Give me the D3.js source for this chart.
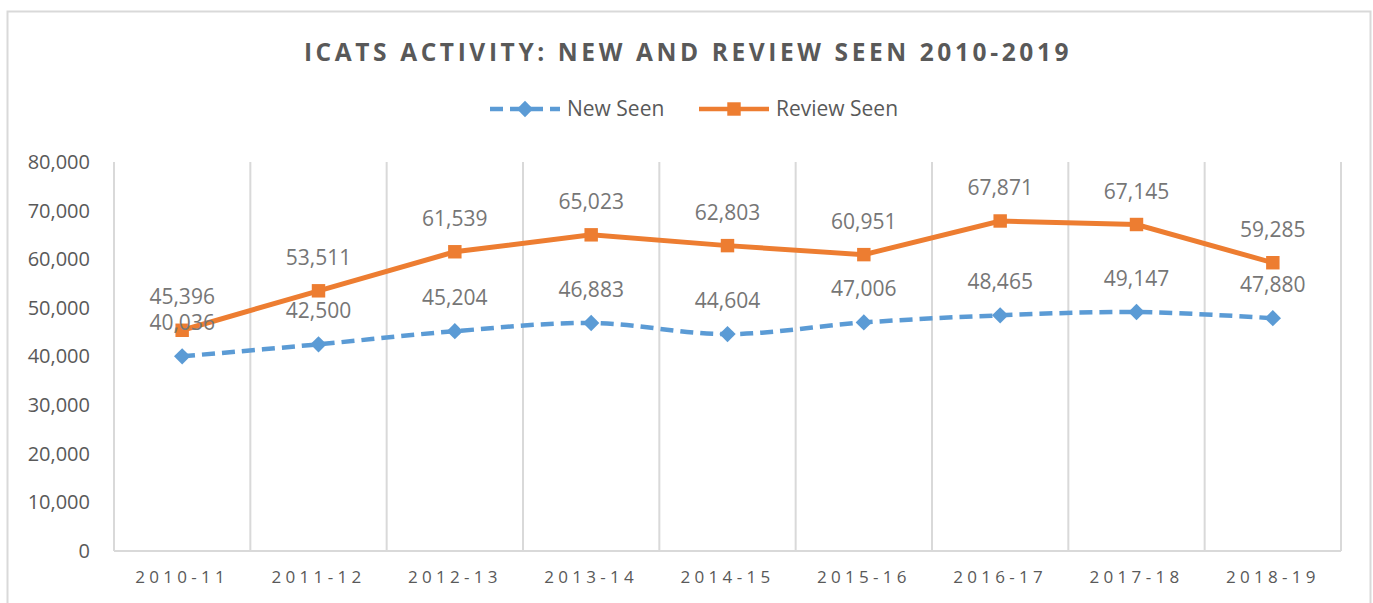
<!DOCTYPE html>
<meta charset="utf-8">
<style>
  body { margin: 0; background: #fff; }
  svg { display: block; font-family: "Open Sans", sans-serif; }
</style>
<svg width="1373" height="603"></svg>
<script src="https://cdnjs.cloudflare.com/ajax/libs/d3/7.8.5/d3.min.js"></script>
<script>

var years = ["2010-11", "2011-12", "2012-13", "2013-14", "2014-15", "2015-16", "2016-17", "2017-18", "2018-19"];
var newSeen = [40036, 42500, 45204, 46883, 44604, 47006, 48465, 49147, 47880];
var reviewSeen = [45396, 53511, 61539, 65023, 62803, 60951, 67871, 67145, 59285];
var yTicks = [0, 10000, 20000, 30000, 40000, 50000, 60000, 70000, 80000];

var svg = d3.select("svg"),
	margin = {top: 162, right: 32, bottom: 52, left: 114},
	width = svg.attr("width") - margin.left - margin.right,
	height = svg.attr("height") - margin.top - margin.bottom;

var blue = "#5B9BD5", orange = "#ED7D31", grid = "#D9D9D9";
var fmt = d3.format(",");

// chart frame
svg.append("rect")
	.attr("x", 7.5).attr("y", 11.5)
	.attr("width", 1363).attr("height", 640)
	.attr("fill", "none")
	.attr("stroke", grid)
	.attr("stroke-width", 2);

var x = d3.scaleBand().domain(years).range([0, width]).padding(0),
	y = d3.scaleLinear().domain([0, 80000]).range([height, 0]);

var g = svg.append("g")
	.attr("transform", "translate(" + margin.left + "," + margin.top + ")");

// vertical gridlines at category edges
var edges = years.map(function(d) { return x(d); }).concat([width]);
g.selectAll(".vgrid")
	.data(edges)
	.enter().append("line")
	.attr("class", "vgrid")
	.attr("x1", function(d) { return d; })
	.attr("x2", function(d) { return d; })
	.attr("y1", 0).attr("y2", height)
	.attr("stroke", grid)
	.attr("stroke-width", 2);

g.append("line")
	.attr("x1", 0).attr("x2", width)
	.attr("y1", height).attr("y2", height)
	.attr("stroke", grid)
	.attr("stroke-width", 2);

// axes
var yAxis = g.append("g")
	.call(d3.axisLeft(y).tickValues(yTicks).tickSize(0).tickPadding(24).tickFormat(fmt));
yAxis.select(".domain").remove();
yAxis.selectAll("text")
	.attr("fill", "#595959")
	.style("font-size", "20px")
	.style("font-family", "Open Sans, sans-serif");

var xAxis = g.append("g")
	.attr("transform", "translate(0," + height + ")")
	.call(d3.axisBottom(x).tickSize(0).tickPadding(20));
xAxis.select(".domain").remove();
xAxis.selectAll("text")
	.attr("fill", "#595959")
	.style("font-size", "17px")
	.style("letter-spacing", "4.3px")
	.style("font-family", "Open Sans, sans-serif");

var cx = function(d, i) { return x(years[i]) + x.bandwidth() / 2; };

var blueLine = d3.line()
	.x(cx)
	.y(function(d) { return y(d); })
	.curve(d3.curveCatmullRom.alpha(0.5));

var orangeLine = d3.line()
	.x(cx)
	.y(function(d) { return y(d); });

g.append("path")
	.datum(newSeen)
	.attr("fill", "none")
	.attr("stroke", blue)
	.attr("stroke-width", 4.5)
	.attr("stroke-dasharray", "13,7")
	.attr("d", blueLine);

g.append("path")
	.datum(reviewSeen)
	.attr("fill", "none")
	.attr("stroke", orange)
	.attr("stroke-width", 5)
	.attr("d", orangeLine);

var diamond = d3.symbol().type(d3.symbolDiamond2).size(170);
var square = d3.symbol().type(d3.symbolSquare2).size(230);

g.selectAll(".newpt")
	.data(newSeen)
	.enter().append("path")
	.attr("class", "newpt")
	.attr("transform", function(d, i) { return "translate(" + cx(d, i) + "," + y(d) + ")"; })
	.attr("d", diamond)
	.attr("fill", blue);

g.selectAll(".revpt")
	.data(reviewSeen)
	.enter().append("path")
	.attr("class", "revpt")
	.attr("transform", function(d, i) { return "translate(" + cx(d, i) + "," + y(d) + ")"; })
	.attr("d", square)
	.attr("fill", orange);

// data labels
function labels(data, cls) {
	g.selectAll("." + cls)
		.data(data)
		.enter().append("text")
		.attr("class", cls)
		.attr("x", cx)
		.attr("y", function(d) { return y(d) - 26; })
		.attr("text-anchor", "middle")
		.attr("fill", "#767676")
		.style("font-size", "21px")
		.text(fmt);
}
labels(newSeen, "newlab");
labels(reviewSeen, "revlab");

// title
svg.append("text")
	.attr("x", 688)
	.attr("y", 61)
	.attr("text-anchor", "middle")
	.attr("fill", "#595959")
	.attr("font-weight", "bold")
	.style("font-size", "24.5px")
	.style("letter-spacing", "3.6px")
	.text("ICATS ACTIVITY: NEW AND REVIEW SEEN 2010-2019");

// legend
var legend = svg.append("g").attr("transform", "translate(0,109)");
var items = [
	{name: "New Seen", color: blue, dash: "13,7", sym: diamond, x: 490},
	{name: "Review Seen", color: orange, dash: null, sym: square, x: 699}
];
items.forEach(function(it) {
	legend.append("line")
		.attr("x1", it.x).attr("x2", it.x + 70)
		.attr("y1", 0).attr("y2", 0)
		.attr("stroke", it.color)
		.attr("stroke-width", 4.5)
		.attr("stroke-dasharray", it.dash);
	legend.append("path")
		.attr("transform", "translate(" + (it.x + 35) + ",0)")
		.attr("d", it.sym)
		.attr("fill", it.color);
	legend.append("text")
		.attr("x", it.x + 77)
		.attr("y", 7)
		.attr("fill", "#595959")
		.style("font-size", "21px")
		.text(it.name);
});

</script>
